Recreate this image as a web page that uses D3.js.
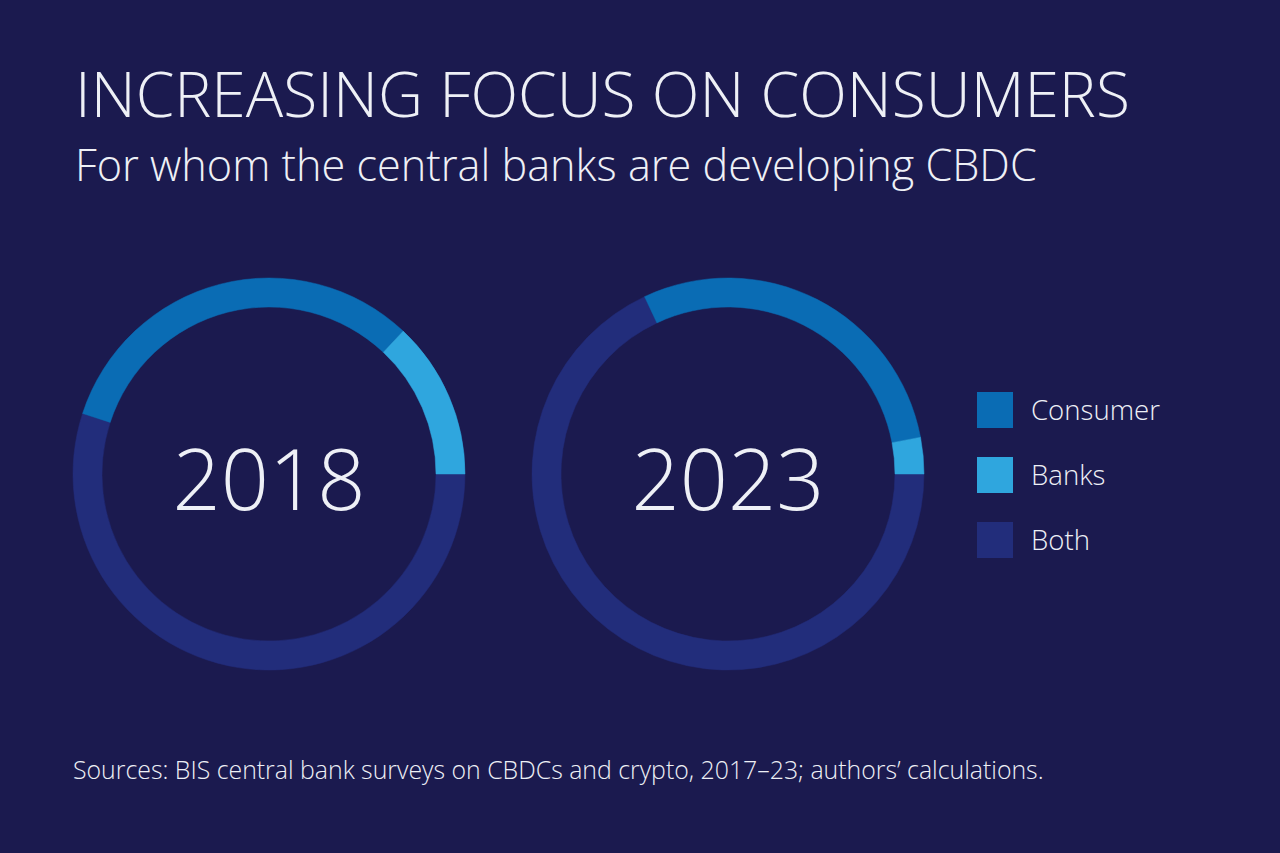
<!DOCTYPE html>
<html>
<head>
<meta charset="utf-8">
<script src="https://cdn.jsdelivr.net/npm/d3@7"></script>
<style>
  html, body { margin: 0; padding: 0; background: #1b1a4f; }
  svg { display: block; }
  text { font-family: "Open Sans", "Noto Sans", sans-serif; font-weight: 300; fill: #eef0f6; }
</style>
</head>
<body>
<svg id="chart" width="1280" height="853"></svg>
<script>
const title = "INCREASING FOCUS ON CONSUMERS";
const subtitle = "For whom the central banks are developing CBDC";
const source = "Sources: BIS central bank surveys on CBDCs and crypto, 2017–23; authors’ calculations.";

const categories = ["Consumer", "Banks", "Both"];
const years = ["2018", "2023"];
const values2018 = [32, 13, 55];
const values2023 = [29, 3, 68];
const colors = ["#0a6cb4", "#2fa6de", "#222d7b"];

const svg = d3.select("#chart");
const W = 1280, H = 853;

svg.append("rect").attr("width", W).attr("height", H).attr("fill", "#1b1a4f");

function fitText(sel, targetWidth) {
  const node = sel.node();
  const fs = parseFloat(sel.attr("font-size"));
  const w = node.getComputedTextLength();
  if (w > 0) sel.attr("font-size", fs * targetWidth / w);
  return sel;
}

fitText(svg.append("text").attr("x", 75).attr("y", 117).attr("font-size", 56).text(title), 1055);
fitText(svg.append("text").attr("x", 75).attr("y", 181).attr("font-size", 40).text(subtitle), 962);
fitText(svg.append("text").attr("x", 73).attr("y", 779).attr("font-size", 20).text(source), 971);

const color = d3.scaleOrdinal().domain(categories).range(colors);

// pie laid out clockwise from 3 o'clock: Both, then Consumer, then Banks
const drawOrder = ["Both", "Consumer", "Banks"];
const pie = d3.pie()
  .sort(null)
  .value(d => d.value)
  .startAngle(Math.PI / 2)
  .endAngle(Math.PI / 2 + 2 * Math.PI);

const outerR = 196, innerR = 167;
const arc = d3.arc().innerRadius(innerR).outerRadius(outerR);

const centers = d3.scalePoint().domain(years).range([269, 728]);
const seriesByYear = { "2018": values2018, "2023": values2023 };

years.forEach(yr => {
  const vals = seriesByYear[yr];
  const data = drawOrder.map(c => ({ cat: c, value: vals[categories.indexOf(c)] }));
  const g = svg.append("g").attr("transform", `translate(${centers(yr)},474)`);
  g.selectAll("path")
    .data(pie(data))
    .join("path")
    .attr("d", arc)
    .attr("fill", d => color(d.data.cat))
    .attr("stroke", d => color(d.data.cat))
    .attr("stroke-width", 0.5);
  const t = g.append("text")
    .attr("text-anchor", "middle")
    .attr("y", 36)
    .attr("font-size", 86)
    .text(yr);
  fitText(t, 193);
});

// legend
const legend = svg.append("g").attr("transform", "translate(977,392)");
const rows = legend.selectAll("g")
  .data(categories)
  .join("g")
  .attr("transform", (d, i) => `translate(0,${i * 65})`);
rows.append("rect")
  .attr("width", 36).attr("height", 36)
  .attr("fill", d => color(d));
rows.append("text")
  .attr("x", 54).attr("y", 28)
  .attr("font-size", 26)
  .text(d => d);
fitText(rows.filter(d => d === "Consumer").select("text"), 129);
const legFs = rows.filter(d => d === "Consumer").select("text").attr("font-size");
rows.selectAll("text").attr("font-size", legFs);
</script>
</body>
</html>
